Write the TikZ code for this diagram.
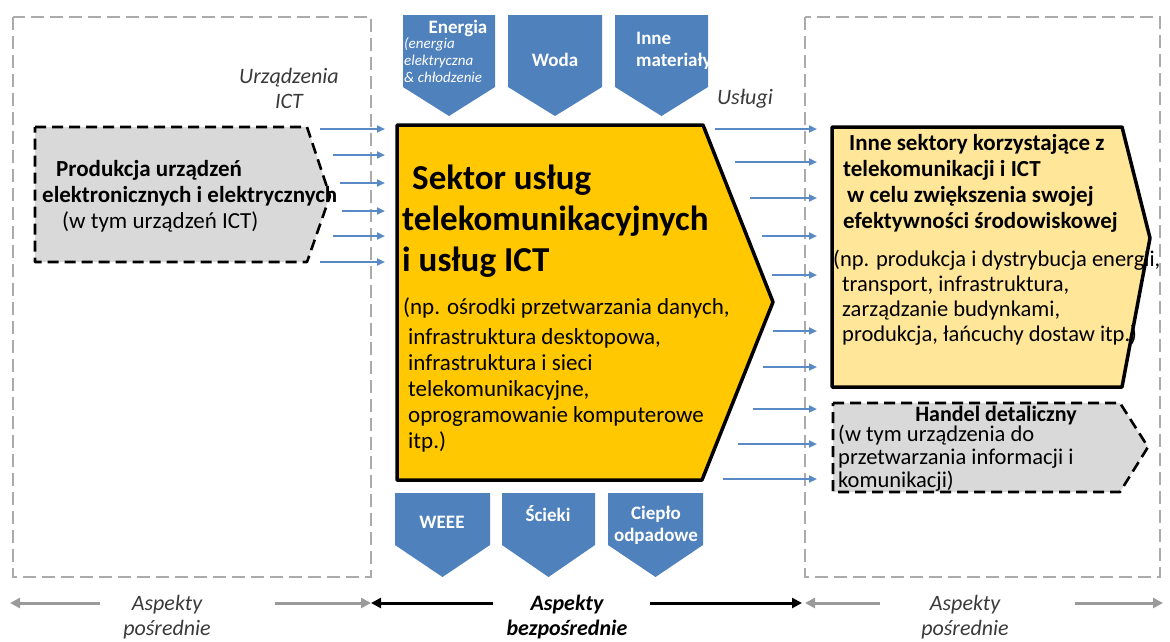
\documentclass[tikz,border=0pt]{standalone}
\usepackage{fontspec}
\setmainfont{Carlito}
\usetikzlibrary{arrows.meta}
\definecolor{flowblue}{HTML}{4F81BD}
\definecolor{feedblue}{HTML}{5A8AC6}
\definecolor{framegray}{HTML}{ABABAB}
\definecolor{boxgray}{HTML}{D9D9D9}
\definecolor{sectorgold}{HTML}{FFC800}
\definecolor{paleyellow}{HTML}{FFE699}
\definecolor{darktext}{HTML}{3A3A3A}
\definecolor{aspgray}{HTML}{9A9A9A}

\def\leftshape{(35,127) -- (307,127) -- (330,196) -- (307,262) -- (35,262) -- cycle}
\def\sectorshape{(397,125) -- (703,125) -- (773,302) -- (702,480) -- (397,480) -- cycle}
\def\usershape{(832,127) -- (1122,127) -- (1150,238) -- (1122,387) -- (832,387) -- cycle}
\def\retailshape{(833,403) -- (1120,403) -- (1148,447) -- (1120,492) -- (833,492) -- cycle}

\begin{document}
\begin{tikzpicture}[x=1pt,y=-1pt,
            every node/.style={inner sep=0pt},
            frame/.style={draw=framegray,line width=2.6pt,dash pattern=on 13pt off 6pt},
            dashbox/.style={draw=black,line width=2.6pt,dash pattern=on 11pt off 6pt,line join=round},
            solidbox/.style={draw=black,line width=3.5pt,line join=round},
            feed/.style={draw=feedblue,line width=2pt,-{Triangle[length=8pt,width=7pt]}},
            grayaspect/.style={draw=aspgray,line width=3pt,-{Triangle[length=10pt,width=10pt]}},
            blackaspect/.style={draw=black,line width=3pt,-{Triangle[length=10pt,width=10pt]}},
            flowtext/.style={text=white,font=\fontsize{19}{22}\selectfont\bfseries,align=center},
            smallflow/.style={text=white,font=\fontsize{15}{17}\selectfont\itshape,align=left},
            side/.style={font=\fontsize{22}{25}\selectfont\itshape,text=darktext,align=center}]

            \useasboundingbox (0,0) rectangle (1170,641);

            \draw[frame] (13,17) rectangle (371,577);
            \draw[frame] (805,17) rectangle (1160,577);

            \foreach \x/\w in {403/92,508/94,615/93}
                \fill[flowblue] (\x,15) -- ++(\w,0) -- ++(0,72) -- ++({-\w/2},29) -- ++({-\w/2},-29) -- cycle;
            \foreach \x/\w in {395/95,502/93,608/95}
                \fill[flowblue] (\x,493) -- ++(\w,0) -- ++(0,52) -- ++({-\w/2},32) -- ++({-\w/2},-32) -- cycle;

            \node[flowtext] (energia) at (458,28) {Energia};
            \node[smallflow,anchor=north west] (energiasub) at (404,37) {(energia\\elektryczna\\\& chłodzenie};
            \node[flowtext] (woda) at (555,60) {Woda};
            \node[flowtext,align=left,anchor=west] (inne) at (636,51) {Inne\\materiały};
            \node[flowtext] (weee) at (442,522) {WEEE};
            \node[flowtext] (scieki) at (548,514) {Ścieki};
            \node[flowtext] (cieplo) at (656,525) {Ciepło\\odpadowe};

            \fill[boxgray] \leftshape;
            \fill[sectorgold] \sectorshape;
            \fill[paleyellow] \usershape;
            \fill[boxgray] \retailshape;

            \foreach \y/\s in {129/320,155/333,183/340,211/342,236/333,262/320}
                \draw[feed] (\s,\y) -- (385,\y);
            \foreach \y/\s in {129/715,162/735,198/750,236/762,275/772,331/773,367/763,409/753,444/738,479/723}
                \draw[feed] (\s,\y) -- (817,\y);

            \node[side] (urzadzenia) at (289,88) {Urządzenia\\ICT};
            \node[side] (uslugi) at (745,99) {Usługi};

            \node[anchor=west,align=left,font=\fontsize{23}{26}\selectfont] (produkcja) at (42,196)
                {\hspace{14pt}\textbf{Produkcja urządzeń}\\\textbf{elektronicznych i elektrycznych}\\\hspace{20pt}(w tym urządzeń ICT)};

            \node[anchor=west,align=left,font=\fontsize{35}{41}\selectfont\bfseries] (sektor) at (402,221)
                {\hspace{10pt}Sektor usług\\telekomunikacyjnych\\i usług ICT};
            \node[anchor=north west,align=left,font=\fontsize{23}{26}\selectfont] (przyklady) at (403,297)
                {(np. ośrodki przetwarzania danych,\\[4pt]
                \hspace{5pt}infrastruktura desktopowa,\\
                \hspace{5pt}infrastruktura i sieci\\
                \hspace{5pt}telekomunikacyjne,\\
                \hspace{5pt}oprogramowanie komputerowe\\
                \hspace{5pt}itp.)};

            \node[anchor=north west,align=left,font=\fontsize{23}{26}\selectfont\bfseries] (inne sektory) at (843,134)
                {\hspace{6pt}Inne sektory korzystające z\\telekomunikacji i ICT\\\hspace{4pt}w celu zwiększenia swojej\\efektywności środowiskowej};
            \node[anchor=north west,align=left,font=\fontsize{22.5}{25}\selectfont] (np) at (833,250)
                {(np. produkcja i dystrybucja energii,\\
                \hspace{9pt}transport, infrastruktura,\\
                \hspace{9pt}zarządzanie budynkami,\\
                \hspace{9pt}produkcja, łańcuchy dostaw itp.)};

            \node[anchor=north,font=\fontsize{22}{23}\selectfont\bfseries] (handel) at (996,406) {Handel detaliczny};
            \node[anchor=north west,align=left,font=\fontsize{22.5}{23}\selectfont] (handelsub) at (838,425)
                {(w tym urządzenia do\\przetwarzania informacji i\\komunikacji)};

            \draw[dashbox] \leftshape;
            \draw[solidbox] \sectorshape;
            \draw[solidbox] \usershape;
            \draw[dashbox] \retailshape;

            \node[side] (posrednie1) at (167,617) {Aspekty\\pośrednie};
            \node[side,font=\fontsize{22}{25}\selectfont\bfseries\itshape,text=black] (bezposrednie) at (567,617) {Aspekty\\bezpośrednie};
            \node[side] (posrednie2) at (965,617) {Aspekty\\pośrednie};

            \coordinate (l0) at (10,603);
            \coordinate (l1) at (100,603);
            \coordinate (l2) at (275,603);
            \coordinate (l3) at (371,603);
            \coordinate (m1) at (493,603);
            \coordinate (m2) at (650,603);
            \coordinate (m3) at (802,603);
            \coordinate (r0) at (805,603);
            \coordinate (r1) at (880,603);
            \coordinate (r2) at (1075,603);
            \coordinate (r3) at (1163,603);

            \draw[grayaspect] (l1) -- (l0);
            \draw[grayaspect] (l2) -- (l3);
            \draw[blackaspect] (m1) -- (l3);
            \draw[blackaspect] (m2) -- (m3);
            \draw[grayaspect] (r1) -- (r0);
            \draw[grayaspect] (r2) -- (r3);
\end{tikzpicture}
\end{document}
